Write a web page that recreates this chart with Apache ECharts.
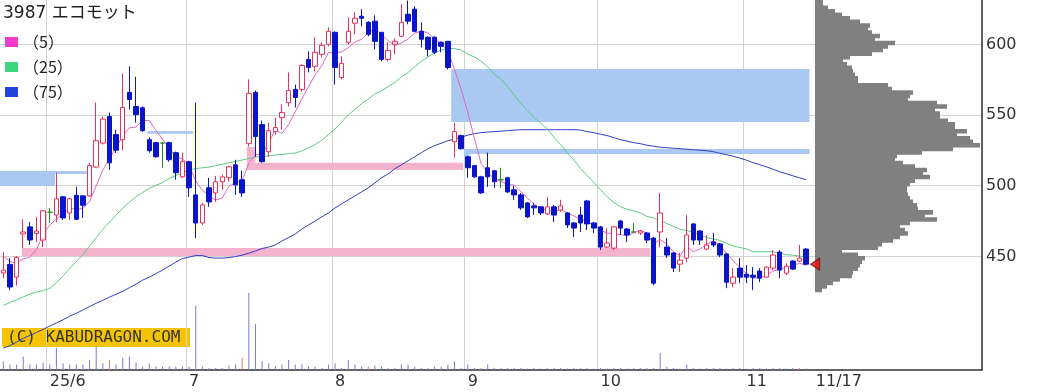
<!DOCTYPE html>
<html>
<head>
<meta charset="utf-8">
<script src="https://cdn.jsdelivr.net/npm/echarts@6/dist/echarts.min.js"></script>
<style>
html,body{margin:0;padding:0;background:#fff;}
#chart{width:1056px;height:392px;}
</style>
</head>
<body>
<div id="chart"></div>
<script>
// ---------- DATA ----------
const title = '3987 エコモット';
const months = [
  ['2025/05', [22,23,26,27,28,29,30]],
  ['2025/06', [2,3,4,5,6,9,10,11,12,13,16,17,18,19,20,23,24,25,26,27,30]],
  ['2025/07', [1,2,3,4,7,8,9,10,11,14,15,16,17,18,22,23,24,25,28,29,30,31]],
  ['2025/08', [1,4,5,6,7,8,12,13,14,15,18,19,20,21,22,25,26,27,28,29]],
  ['2025/09', [1,2,3,4,5,8,9,10,11,12,16,17,18,19,22,24,25,26,29,30]],
  ['2025/10', [1,2,3,6,7,8,9,10,14,15,16,17,20,21,22,23,24,27,28,29,30,31]],
  ['2025/11', [4,5,6,7,10,11,12,13,14,17]]
];
const padSlots = 26;               // empty slots to the right of the last day
const tickIndex = [7, 28, 50, 70, 90, 112, 122];
const tickText  = ['25/6', '7', '8', '9', '10', '11', '11/17'];
const monthLines = [7, 28, 50, 70, 90, 112];
const priceTicks = [450, 500, 550, 600];

const opens = [438,444,435,465.6,470.6,466,461.3,481,479,491.9,480.5,493,492.6,492.6,513,530,548.8,536,532.4,565.9,
555.9,555,532.4,530.3,530,530.3,523.2,506.1,516.8,493.3,473.4,498.3,494.7,502.6,505.4,514.6,504,529.6,565.9,543.1,
523.9,538.1,548,558.7,568,568,589.3,584.4,592.9,600,608.5,576.5,601.4,615,619.9,615.6,616.4,608.5,589.3,600,
605.7,621.3,624.9,609.2,605,605,601.4,602.1,531,535.3,520.3,514,506.1,512.5,510.4,504,505.4,496.9,493.3,487.6,
485.5,484.8,479.8,484.8,482.6,480.5,473.4,479,489,473.4,470.6,456.3,455.6,474.8,469.1,467,466.3,466.3,462.7,467,
456.3,452.1,444.2,448.5,472.7,467.7,454.9,459.9,458.5,451.4,430.7,441.4,437.1,436.4,439.3,435,441.4,452.8,437.8,446.4,
446.4,454.9];
const closes = [440,428,449,467,461.3,467.7,482,481,490.5,477,490.5,476,486,514,531.7,547,516,525,555.2,560.9,
550.2,538.8,524.6,520.3,530,518.2,509,516.8,498.3,473.4,486.2,488.3,502.6,506,513.2,500.4,494.7,565.2,534.6,516.8,
538.8,541,551.6,567.3,562.3,585,583.6,594.3,599.3,609.2,583.6,586.5,609.2,618.5,618.5,607,602.1,589.3,595.7,602.1,
615.6,616.4,609.2,603.6,596.4,594.3,598.6,583.6,538.1,526,512.5,506.1,494.7,506.1,502.6,504,495.4,493.3,484.1,477.7,
484.1,480.5,484.8,479,485.5,472,469.8,473.4,472.7,469.8,456.3,459.2,470.6,469.8,464.9,467,467.7,461.3,430.7,480.5,
450.7,441.4,447,464.9,461.3,461.3,457.8,457.8,450.7,431.4,435,435,435,435,434.3,442.1,450.7,440,442.8,440.7,
448.5,444.2];
const lows = [434.3,425.8,429,455.6,457.8,459.9,456.3,473.4,474,475.5,475.5,475.5,477,492,512.5,528.9,511,523,525,553.8,
544.5,538,523.2,519.6,512.5,516.8,504,505.4,491.9,462.7,472,484.8,488.3,496.9,502.6,493.3,491.9,527.5,520.3,516.1,
520.3,536,539.5,555.9,555.2,566.6,580.1,580.8,590.8,598.6,571.5,575.1,600,607,612.8,605.7,596.4,587.9,587.9,592.9,
605,614.2,608.5,597.9,591.5,592.9,594.3,582.2,519.6,525.3,505.4,505.4,494,499,498.3,498.3,494.7,489.8,482.6,477,
479,479,479,474.1,481.2,469.8,463.4,467,468.4,466.3,454.2,455.6,454.2,464.9,459.9,466.3,464.9,459.2,429.3,456.3,
448.5,438.6,438.6,445.7,457.8,457.8,454.2,456.3,449.2,427.2,427.9,430.7,430.7,425.8,431.4,434.3,440,434.3,436.4,440,
445.7,443.5];
const highs = [452.8,448.5,450,476,474,477.7,482.6,484,509,492.6,491,499,493,516,558.7,548.8,551.6,539.5,579.4,584.4,
577,556,533.9,531,531,531,523.9,523.2,517.5,558.7,487.6,505.4,506.8,507.5,513.9,518.2,510.5,575.1,567.3,545.9,
544.5,548,557.3,580.1,571.5,585.8,595,605,601.4,612,609.2,591.5,619.2,622.8,624.9,616.4,620.6,608.5,601.4,604.3,
628.4,631,627,615.6,605.7,605.7,602.1,602.1,544.5,536,521,514.6,506.8,523.2,511,512.5,506.1,499.7,494.7,488.3,
487.6,485.5,491.9,486.2,489.8,481.2,474.1,484.8,489.8,474.1,471.3,469.8,471.3,475.5,469.8,473.4,468.4,467,463.4,494.7,
462.7,452.8,452.1,479,473.4,468.4,464.9,466.3,459.2,452.1,441.4,448.5,443.5,442.1,441.4,442.8,454.2,454.2,444.9,447.1,
457.8,455.6];

const ma5 = [450,446,445,448,449,454.6,465.4,471.8,476.4,479.6,484,482.8,483.8,488.6,499.6,511,519,526.8,535,540.8,
541.4,546,546,539,532.8,526.4,520.4,518.8,514.4,503,496.6,492.4,489.6,491.2,499.2,502,503.4,515.8,521.6,522.4,
530.2,539.4,536.8,543.2,552.2,561.4,570,578.4,584.8,594.2,594,594.6,597.6,601.6,603.6,608.2,611.2,607.2,602.6,599.2,
601,603.8,607.8,609.4,608.2,603.8,600.4,595.4,582.2,568.2,552,533.4,515.6,509.2,504.6,502.8,500.6,500.2,495.8,490.8,
486.8,484,482.4,481.4,483,480.6,478.4,476,474.8,471.6,468.4,466.2,465.8,465.2,464.2,466.4,468.2,466.2,458.4,461.6,
458.4,453,450.2,457,453,455,458.4,460.6,457.8,451.8,446.6,442,437.4,434.2,434.8,436.2,439.4,440.4,442,443.4,
444.8,443.4];
const ma25 = [415,417,419,421,423,424.5,425.5,427,431,436,441,446,451,457,463,469,474,479,484,488,
492,495,498,500,502,505,507,509,511,512,512.5,513,514,515,516,517,518,519,520,520.5,
521,521.5,522,522.5,523,524.5,526.5,529,532,536,540,545,550,554,558,561,565,567,570,573,
577,580,584,588,591,594,596,597,597,596,593,591,588,584,579,575,570,564,558,553,
548,544,540,534,529,523,518,512,507,502,497,492,488,485,483,482,480.5,478,477,475,
473,471,469,468,467,465,463,462,461,459,457,456,455,453,453,453,453,452,451,450.5,
450,449];
const ma75 = [384.7,386.5,389,391.6,393.7,395.8,398,400.4,402.5,404.8,407.3,409.4,411.7,414.2,416.5,418.6,420.8,422.9,425,427.5,
430,432.9,435,437.5,440,442.8,445.7,448.2,449.2,450.3,450.3,448.9,448.5,448.5,448.9,449.6,450.6,452,453.5,455.3,
456.3,457.8,460.6,463.1,465.6,469.1,472,474.8,477.7,480.5,484.1,486.9,489.8,492.6,495.4,498.3,501.8,505.4,508.2,511.8,
514.6,517.5,520.3,523.2,526,528.2,529.9,531.7,532.8,534.2,535.6,536.7,537.4,537.8,538.1,538.5,538.8,539.2,539.5,539.5,
539.5,539.5,539.5,539.5,539.5,539.5,539.5,539.2,538.1,537.4,536.3,535.3,533.9,532.4,531.4,530.3,529.6,528.5,527.8,527.1,
526.7,526.4,526,525.7,525.3,525,524.6,523.9,522.8,521.8,520.7,519.3,517.9,516.1,514.7,513.2,511.5,509.7,508.3,506.8,
505.4,504];

// volume (thousand shares, estimated)
const volumes = [8.8,5.4,5.4,13.5,5.4,5.4,7.4,5.4,22.3,6.8,5.4,5.4,5.4,10.1,23.6,6.8,10.1,5.4,12.2,13.5,
7.4,3.4,6.8,3.4,3.4,3.4,3.4,3.4,3.4,64.2,3.4,2,2,2,4.4,5.4,12.2,77,46,8.8,
6.8,4,5.4,10.1,5.4,5.4,3.4,3.4,2,5.4,6.8,2,10.1,5.4,3.4,3.4,4.4,3.4,2,2,
5.4,5.4,3.4,2,2,3.4,3.4,5.4,8.8,2,5.4,2,2,5.4,2,2,2,2,2,1.5,
2,1.5,2,2,2,1.5,2,2,2,1.5,2,1.5,2,2,1.5,2,2,2,2,17,
3.4,2,1.5,5.5,2,1.5,2,2,2,1.5,2,2,1.5,2,2,1.5,2,2,1.5,2,
2,1.5];
const volumeRed = [16, 36, 55, 120];

// price bands (unfilled windows): start/end in candle-slot units
const bandKind  = ['up','up','up','down','down','down','down','down','down'];
const bandLow   = [450, 516, 510.9, 545, 522.3, 520.5, 499.6, 508.1, 536.6];
const bandHigh  = [455.7, 527.2, 516, 582.5, 525.8, 522.3, 510.2, 510.2, 538.6];
const bandStart = [2.8, 36.7, 36.7, 67.5, 69.4, 69.4, -0.5, 7.8, 21.7];
const bandEnd   = [97.5, 38.0, 69.3, 121.5, 121.5, 70.3, 7.8, 12.6, 28.6];

// volume-by-price profile, ascending price bins
const profileStart = 425, profileStep = 2.5;
const profileVol = [7,12,18,25,37,38,43,45,47,50,43,27,63,67,78,85,93,90,85,95,
122,110,118,103,102,98,95,93,92,92,95,100,115,108,112,100,88,80,82,107,
138,165,158,155,142,152,140,140,133,125,125,120,132,122,93,95,98,77,73,43,
43,40,38,37,32,28,35,57,68,73,80,60,65,57,53,55,45,35,27,20,
13,8,8];

// ---------- BUILD ----------
const categories = [];
months.forEach(([m, days]) => days.forEach(d => categories.push(m + '/' + String(d).padStart(2,'0'))));
const nDays = categories.length;
for (let k = 0; k < padSlots; k++) categories.push('pad' + k);

const candleData = opens.map((o, i) => [o, closes[i], lows[i], highs[i]]);
const volData = volumes.map((v, i) => ({
  value: v,
  itemStyle: { color: volumeRed.includes(i) ? '#e07878' : '#7a7ad0' }
}));
const profileData = profileVol.map((v, k) => [v, profileStart + k * profileStep]);

const FONT = 'DejaVu Sans';
const PMIN = 369.2, PMAX = 631.4;

const chart = echarts.init(document.getElementById('chart'), null, { renderer: 'canvas' });
const option = {
  animation: false,
  backgroundColor: '#ffffff',
  textStyle: { fontFamily: FONT },
  title: {
    text: title, left: 3, top: 5, padding: 0,
    textStyle: { fontSize: 17, fontWeight: 'normal', color: '#222', fontFamily: 'DejaVu Sans, Noto Sans CJK JP' }
  },
  legend: {
    orient: 'vertical', left: 5, top: 34, padding: 0,
    itemWidth: 13, itemHeight: 10, itemGap: 9, icon: 'rect', selectedMode: false,
    textStyle: { fontSize: 16, color: '#222', lineHeight: 15, fontFamily: 'Noto Sans CJK JP' },
    data: [
      { name: '（5）', itemStyle: { color: '#f03cc8' } },
      { name: '（25）', itemStyle: { color: '#3cd47c' } },
      { name: '（75）', itemStyle: { color: '#2244dd' } }
    ]
  },
  grid: [
    { left: 0, right: 74, top: 0, bottom: 22 },             // price
    { left: 0, right: 74, top: 0, bottom: 135.6 },          // price labels / grid lines (450 .. top)
    { left: 0, right: 74, top: 290, bottom: 22 },           // volume
    { left: 815, right: 74, top: 0, bottom: 22 }            // profile
  ],
  xAxis: [
    {
      type: 'category', gridIndex: 0, data: categories, boundaryGap: true,
      axisLine: { show: true, lineStyle: { color: '#333', width: 1.5 } },
      axisTick: { show: false },
      axisLabel: {
        interval: (idx) => tickIndex.includes(idx),
        formatter: (val, idx) => {
          const k = tickIndex.indexOf(idx);
          if (k < 0) return '';
          return k === tickIndex.length - 1 ? '{p|' + tickText[k] + '}' : tickText[k];
        },
        rich: { p: { padding: [0, 0, 0, 3], fontSize: 16, color: '#333', fontFamily: FONT } },
        align: 'left', fontSize: 16, color: '#333', margin: 4, fontFamily: FONT
      },
      splitLine: {
        show: true,
        interval: (idx) => monthLines.includes(idx),
        lineStyle: { color: '#d2d2d2', width: 1 }
      }
    },
    { type: 'value', gridIndex: 1, show: false, min: 0, max: 1 },
    { type: 'category', gridIndex: 2, data: categories, boundaryGap: true, show: false },
    { type: 'value', gridIndex: 3, show: false, min: 0, max: 167 }
  ],
  yAxis: [
    {
      type: 'value', gridIndex: 0, min: PMIN, max: PMAX, position: 'right',
      axisLine: { show: true, lineStyle: { color: '#333', width: 1.5 } },
      axisTick: { show: false }, axisLabel: { show: false }, splitLine: { show: false }
    },
    {
      type: 'value', gridIndex: 1, min: priceTicks[0], max: PMAX, interval: 50, position: 'right',
      axisLine: { show: false },
      axisTick: { show: true, inside: true, length: 5, lineStyle: { color: '#333', width: 1 } },
      axisLabel: {
        formatter: (v) => (priceTicks.includes(v) ? String(v) : ''),
        showMaxLabel: false,
        fontSize: 16, color: '#333', margin: 4, fontFamily: FONT
      },
      splitLine: { show: true, showMaxLine: false, lineStyle: { color: '#d2d2d2', width: 1 } }
    },
    { type: 'value', gridIndex: 2, min: 0, max: 80, show: false },
    { type: 'value', gridIndex: 3, min: PMIN, max: PMAX, show: false }
  ],
  series: [
    {
      type: 'custom', name: 'bands', xAxisIndex: 0, yAxisIndex: 0, z: 1, silent: true,
      data: bandLow.map((v, k) => [k, v]),
      renderItem: (params, api) => {
        const k = params.dataIndex;
        const slot = api.size([1, 0])[0];
        const top = api.coord([0, bandHigh[k]]);
        const bot = api.coord([0, bandLow[k]]);
        const x0 = top[0] + bandStart[k] * slot;
        const x1 = top[0] + bandEnd[k] * slot;
        return {
          type: 'rect',
          shape: { x: x0, y: top[1], width: x1 - x0, height: bot[1] - top[1] },
          style: { fill: bandKind[k] === 'up' ? '#f4b3cc' : '#a9c9f3' }
        };
      }
    },
    {
      type: 'custom', name: 'profile', xAxisIndex: 3, yAxisIndex: 3, z: 1, silent: true,
      data: profileData,
      renderItem: (params, api) => {
        const v = api.value(0), lo = api.value(1);
        const a = api.coord([0, lo + profileStep]);
        const b = api.coord([v, lo]);
        return {
          type: 'rect',
          shape: { x: a[0], y: a[1], width: b[0] - a[0], height: b[1] - a[1] + 1 },
          style: { fill: '#808080', stroke: null }
        };
      }
    },
    {
      type: 'bar', name: 'volume', xAxisIndex: 2, yAxisIndex: 2, barWidth: 1, z: 2,
      data: volData
    },
    {
      type: 'line', name: '（75）', xAxisIndex: 0, yAxisIndex: 0, data: ma75, z: 2,
      showSymbol: false, symbol: 'none', itemStyle: { color: '#2244dd' },
      lineStyle: { color: '#3040c0', width: 1 }
    },
    {
      type: 'line', name: '（25）', xAxisIndex: 0, yAxisIndex: 0, data: ma25, z: 2,
      showSymbol: false, symbol: 'none', itemStyle: { color: '#3cd47c' },
      lineStyle: { color: '#5ccc84', width: 1 }
    },
    {
      type: 'line', name: '（5）', xAxisIndex: 0, yAxisIndex: 0, data: ma5, z: 2,
      showSymbol: false, symbol: 'none', itemStyle: { color: '#f03cc8' },
      lineStyle: { color: '#e466c4', width: 1 }
    },
    {
      type: 'candlestick', name: 'price', xAxisIndex: 0, yAxisIndex: 0, z: 3,
      barWidth: 5, data: candleData,
      itemStyle: {
        color: '#ffffff', borderColor: '#e8305a',
        color0: '#0a14c8', borderColor0: '#0a14c8',
        borderColorDoji: '#2a8a2a', borderWidth: 1
      }
    },
    {
      type: 'scatter', name: 'last', xAxisIndex: 0, yAxisIndex: 0, z: 5,
      data: [[nDays - 1, closes[nDays - 1]]],
      symbol: 'triangle', symbolRotate: 90, symbolSize: [12, 9], symbolOffset: [9, 0],
      itemStyle: { color: '#e81010', borderColor: '#700000', borderWidth: 1 }
    }
  ],
  graphic: [
    {
      type: 'group', left: 2, top: 328, z: 100,
      children: [
        { type: 'rect', shape: { x: 0, y: 0, width: 188, height: 19 }, style: { fill: '#f5c400' } },
        { type: 'text', x: 5, y: 2, style: { text: '(C) KABUDRAGON.COM', fill: '#333', font: '16px "DejaVu Sans Mono"' } }
      ]
    }
  ]
};
chart.setOption(option);
</script>
</body>
</html>
